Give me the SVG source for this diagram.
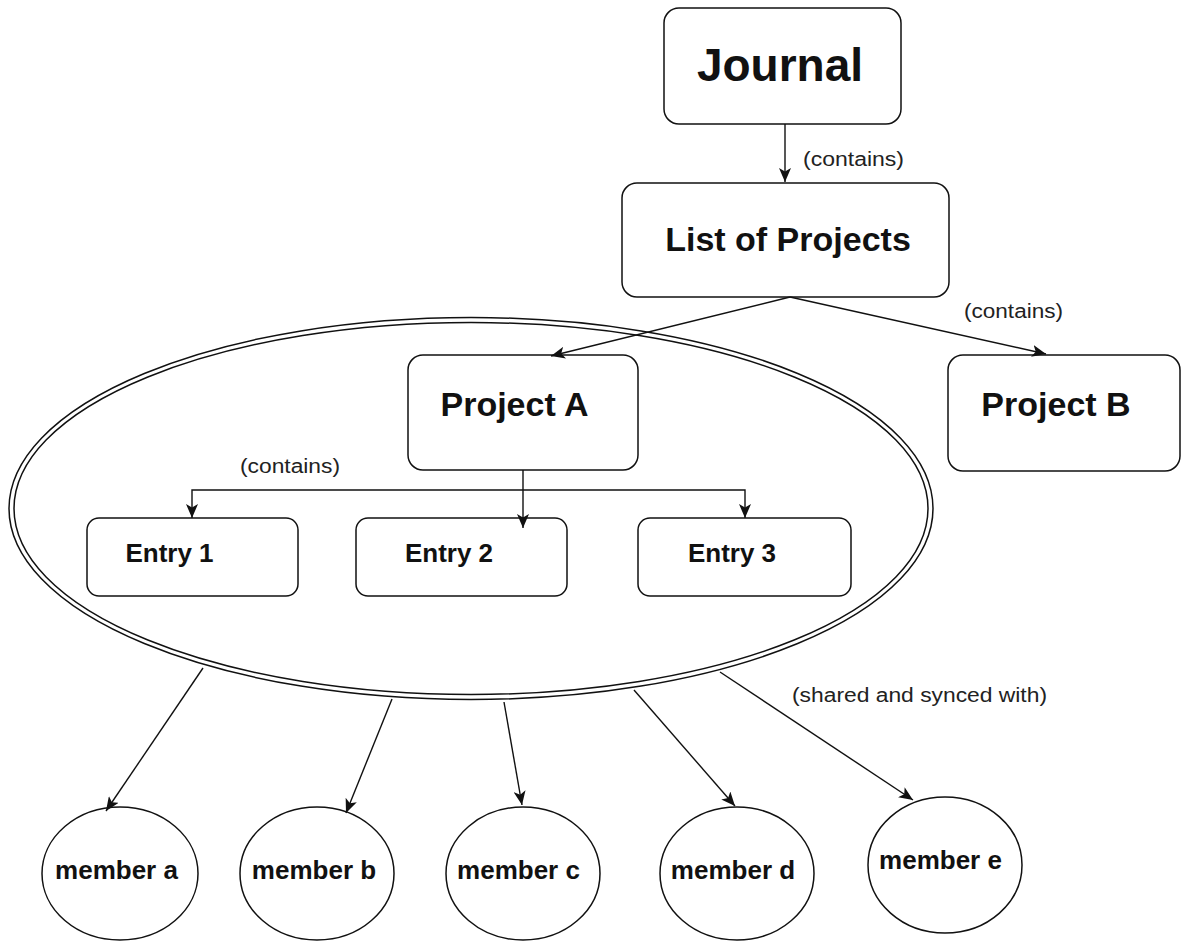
<svg xmlns="http://www.w3.org/2000/svg" width="1184" height="941" viewBox="0 0 1184 941">
<style>
.box{fill:#fff;stroke:#111;stroke-width:1.5}
.ell{fill:none;stroke:#111;stroke-width:1.5}
.t{font-family:"Liberation Sans",Arial,sans-serif;font-weight:bold;fill:#111}
.lbl{font-family:"Liberation Sans",Arial,sans-serif;font-size:20px;fill:#222}
.c{fill:none;stroke:#111;stroke-width:1.4;marker-end:url(#arr)}
</style>
<defs>
<marker id="arr" viewBox="0 0 14 12" refX="14" refY="6" markerWidth="14" markerHeight="12" markerUnits="userSpaceOnUse" orient="auto">
<path d="M0,0 L14,6 L0,12 L3.5,6 z" fill="#111"/>
</marker>
</defs>
<rect width="1184" height="941" fill="#fff"/>
<g id="shared-group">
<ellipse class="ell" cx="471" cy="508.5" rx="462" ry="191"/>
<ellipse class="ell" cx="471" cy="508.5" rx="457" ry="186"/>
</g>
<g id="journal">
<rect class="box" x="664" y="8" width="237" height="116" rx="15"/>
<text class="t" x="780" y="81" font-size="46" text-anchor="middle">Journal</text>
</g>
<g id="list-of-projects">
<rect class="box" x="622" y="183" width="327" height="114" rx="15"/>
<text class="t" x="788" y="251" font-size="34" text-anchor="middle">List of Projects</text>
</g>
<g id="project-a">
<rect class="box" x="408" y="355" width="230" height="115" rx="15"/>
<text class="t" x="514.5" y="416" font-size="34" text-anchor="middle">Project A</text>
</g>
<g id="project-b">
<rect class="box" x="948" y="355" width="232" height="116" rx="15"/>
<text class="t" x="1056" y="416" font-size="34" text-anchor="middle">Project B</text>
</g>
<g id="entry-1">
<rect class="box" x="87" y="518" width="211" height="78" rx="12"/>
<text class="t" x="169.5" y="562" font-size="26" text-anchor="middle">Entry 1</text>
</g>
<g id="entry-2">
<rect class="box" x="356" y="518" width="211" height="78" rx="12"/>
<text class="t" x="449" y="562" font-size="26" text-anchor="middle">Entry 2</text>
</g>
<g id="entry-3">
<rect class="box" x="638" y="518" width="213" height="78" rx="12"/>
<text class="t" x="732" y="562" font-size="26" text-anchor="middle">Entry 3</text>
</g>
<g id="member-a">
<ellipse class="box" cx="120" cy="873.5" rx="78" ry="66.5"/>
<text class="t" x="116.5" y="879" font-size="26" text-anchor="middle">member a</text>
</g>
<g id="member-b">
<ellipse class="box" cx="317" cy="873.5" rx="77" ry="66.5"/>
<text class="t" x="314" y="879" font-size="26" text-anchor="middle">member b</text>
</g>
<g id="member-c">
<ellipse class="box" cx="523" cy="873.5" rx="77" ry="66.5"/>
<text class="t" x="518.5" y="879" font-size="26" text-anchor="middle">member c</text>
</g>
<g id="member-d">
<ellipse class="box" cx="737" cy="873.5" rx="77" ry="66.5"/>
<text class="t" x="733" y="879" font-size="26" text-anchor="middle">member d</text>
</g>
<g id="member-e">
<ellipse class="box" cx="945" cy="865" rx="77" ry="68"/>
<text class="t" x="940.5" y="869" font-size="26" text-anchor="middle">member e</text>
</g>
<g id="connectors">
<path class="c" d="M785,124 V182"/>
<path class="c" d="M790,297 L551,356"/>
<path class="c" d="M790,297 L1046,354"/>
<path class="c" d="M523,470 V528"/>
<path class="c" d="M523,490 H192 V518"/>
<path class="c" d="M523,490 H745 V518"/>
<path class="c" d="M203,668 L106,811"/>
<path class="c" d="M392,699 L346,813"/>
<path class="c" d="M504,702 L522,805"/>
<path class="c" d="M634,690 L735,806"/>
<path class="c" d="M720,672 L913,800"/>
<text class="lbl" x="803" y="166" textLength="101" lengthAdjust="spacingAndGlyphs">(contains)</text>
<text class="lbl" x="964" y="318" textLength="99" lengthAdjust="spacingAndGlyphs">(contains)</text>
<text class="lbl" x="240" y="473" textLength="100" lengthAdjust="spacingAndGlyphs">(contains)</text>
<text class="lbl" x="792" y="702" textLength="255" lengthAdjust="spacingAndGlyphs">(shared and synced with)</text>
</g>
</svg>
